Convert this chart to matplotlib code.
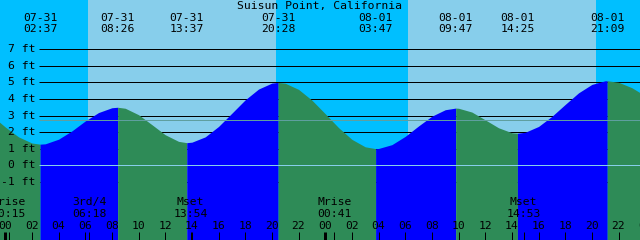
"""
XTide-style tide graph for Suisun Point, California (07-31 .. 08-01).
Writes out.png at 640x240.
"""

import matplotlib

matplotlib.use("Agg")
import matplotlib.pyplot as plt

STATION = "Suisun Point, California"

# tide height (ft), one value per hour since 07-31 00:00
HOURS = list(range(-1, 49))
HEIGHTS = [
    2.99, 2.31, 1.71, 1.34, 1.29, 1.57, 2.07, 2.67, 3.18, 3.47,
    3.44, 3.05, 2.45, 1.84, 1.44, 1.39, 1.71, 2.34, 3.14, 3.95,
    4.60, 4.96, 4.95, 4.58, 3.93, 3.11, 2.27, 1.56, 1.11, 1.01,
    1.24, 1.74, 2.37, 2.96, 3.35, 3.44, 3.21, 2.74, 2.26, 1.96,
    1.99, 2.34, 2.95, 3.67, 4.37, 4.88, 5.10, 5.01, 4.68, 4.19,
]

# high / low tides
TIDE_DATES = ["07-31", "07-31", "07-31", "07-31", "08-01", "08-01", "08-01", "08-01"]
TIDE_TIMES = ["02:37", "08:26", "13:37", "20:28", "03:47", "09:47", "14:25", "21:09"]
TIDE_HEIGHTS = [1.27, 3.50, 1.36, 5.00, 1.00, 3.45, 1.93, 5.10]

# moon events along the bottom
MOON_NAMES = ["Mrise", "3rd/4", "Mset", "Mrise", "Mset"]
MOON_DATES = ["07-31", "07-31", "07-31", "08-01", "08-01"]
MOON_TIMES = ["00:15", "06:18", "13:54", "00:41", "14:53"]

# daylight
SUN_DATES = ["07-31", "08-01"]
SUNRISE = ["06:13", "06:13"]
SUNSET = ["20:19", "20:19"]

DEPTHS = [-1, 0, 1, 2, 3, 4, 5, 6, 7]
MSL = 2.71

NIGHT = "#00bfff"
DAY = "#87ceeb"
RISING = "#0000ff"
FALLING = "#2e8b57"
MSL_COLOR = "#5f9f9f"
DATUM_COLOR = "#87ceeb"

X_MIN, X_MAX = -0.39, 47.61
Y_MIN, Y_MAX = -4.52, 9.98
FONT = dict(family="DejaVu Sans Mono", size=8.2, color="black")


def to_hours(date: str, clock: str) -> float:
    hh, mm = clock.split(":")
    day = 0 if date == "07-31" else 24
    return day + int(hh) + int(mm) / 60.0


def main() -> None:
    fig = plt.figure(figsize=(6.4, 2.4), dpi=100)
    ax = fig.add_axes([0, 0, 1, 1])
    ax.set_axis_off()
    ax.set_xlim(X_MIN, X_MAX)
    ax.set_ylim(Y_MIN, Y_MAX)

    # night sky everywhere, day sky between sunrise and sunset
    ax.axvspan(X_MIN, X_MAX, color=NIGHT, lw=0, zorder=0)
    for d, rise, sset in zip(SUN_DATES, SUNRISE, SUNSET):
        ax.axvspan(to_hours(d, rise), to_hours(d, sset), color=DAY, lw=0, zorder=0)

    # depth lines behind the water
    line_start = 2.535
    for dep in DEPTHS:
        ax.hlines(dep, line_start, X_MAX, color="black", lw=0.72, zorder=1)
        ax.text(2.235, dep, f"{dep} ft", ha="right", va="center", zorder=5, **FONT)

    # water, coloured by rising / falling
    tide_h = [to_hours(d, t) for d, t in zip(TIDE_DATES, TIDE_TIMES)]
    pts = sorted(zip(HOURS + tide_h, HEIGHTS + TIDE_HEIGHTS))
    bounds = [HOURS[0]] + tide_h + [HOURS[-1]]
    for a, b in zip(bounds[:-1], bounds[1:]):
        seg = [(t, v) for t, v in pts if a <= t <= b]
        ts = [p[0] for p in seg]
        vs = [p[1] for p in seg]
        color = RISING if vs[-1] > vs[0] else FALLING
        ax.fill_between(ts, Y_MIN, vs, color=color, lw=0, zorder=2,
                        antialiased=False)

    ax.hlines(MSL, line_start, X_MAX, color=MSL_COLOR, lw=0.72, zorder=3)
    ax.hlines(0, line_start, X_MAX, color=DATUM_COLOR, lw=0.72, zorder=3)

    # title and tide event labels
    ax.text((X_MIN + X_MAX) / 2, 9.62, STATION, ha="center", va="center", **FONT)
    for d, t, h in zip(TIDE_DATES, TIDE_TIMES, tide_h):
        ax.text(h, 8.92, d, ha="center", va="center", **FONT)
        ax.text(h, 8.20, t, ha="center", va="center", **FONT)

    # hour ticks along the bottom
    tick_top = -4.02
    for hr in range(0, 49, 2):
        lw = 2.16 if hr % 24 == 0 else 0.72
        ax.vlines(hr, Y_MIN, tick_top, color="black", lw=lw, zorder=4)
        ax.text(hr, -3.67, f"{hr % 24:02d}", ha="center", va="center", **FONT)

    for name, d, t in zip(MOON_NAMES, MOON_DATES, MOON_TIMES):
        h = to_hours(d, t)
        ax.vlines(h, Y_MIN, tick_top, color="black", lw=0.72, zorder=4)
        ax.text(h, -2.22, name, ha="center", va="center", **FONT)
        ax.text(h, -2.95, t, ha="center", va="center", **FONT)

    fig.savefig("out.png", dpi=100)
    plt.close(fig)


if __name__ == "__main__":
    main()
